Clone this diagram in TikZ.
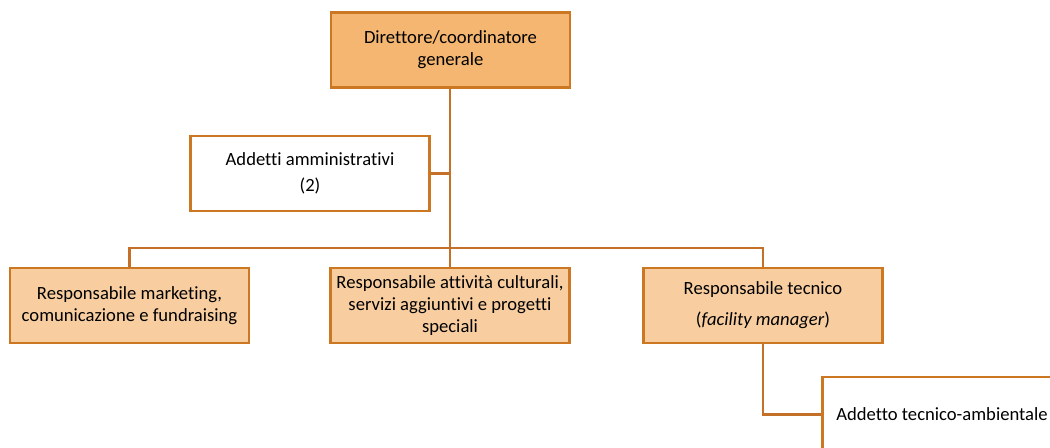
\documentclass[tikz,border=0pt]{standalone}
\usepackage{fontspec}
\setmainfont{Carlito}[Ligatures={NoCommon}]
\definecolor{bordo}{RGB}{204,119,34}
\definecolor{linea}{RGB}{197,112,40}
\definecolor{capofill}{RGB}{244,182,112}
\definecolor{ruolofill}{RGB}{248,206,160}
\tikzset{
  box/.style={draw=bordo,line width=1.5pt,minimum width=4.78cm,minimum height=1.5cm,
    align=center,font=\fontsize{10.6}{12.6}\selectfont,inner sep=2pt},
  capo/.style={box,fill=capofill},
  ruolo/.style={box,fill=ruolofill},
  addetto/.style={box,fill=white},
  conn/.style={draw=linea,line width=1.3pt}
}
\begin{document}
\begin{tikzpicture}
\useasboundingbox (0,0) rectangle (21,-8.94);
\clip (0,0) rectangle (21,-8.94);
\node[capo] (dir) at (9.01,-1.0) {Direttore/coordinatore\\generale};
\node[addetto] (adm) at (6.2,-3.47) {Addetti amministrativi\\[2pt](2)};
\node[ruolo] (mkt) at (2.59,-6.11) {Responsabile marketing,\\comunicazione e fundraising};
\node[ruolo] (cult) at (9.0,-6.11) {Responsabile attività culturali,\\servizi aggiuntivi e progetti\\speciali};
\node[ruolo] (tec) at (15.26,-6.11) {Responsabile tecnico\\[5pt](\textit{facility manager})};
\node[addetto] (amb) at (18.84,-8.29) {Addetto tecnico-ambientale};
\coordinate (bus) at (9.0,-4.96);
% connettori
\draw[conn] (dir.south -| bus) -- (cult.north);
\draw[conn] (adm.east) -- (adm.east -| bus);
\draw[conn] (mkt.north) |- (bus);
\draw[conn] (tec.north) |- (bus);
\draw[conn] (tec.south) |- (amb.west);
\end{tikzpicture}
\end{document}
